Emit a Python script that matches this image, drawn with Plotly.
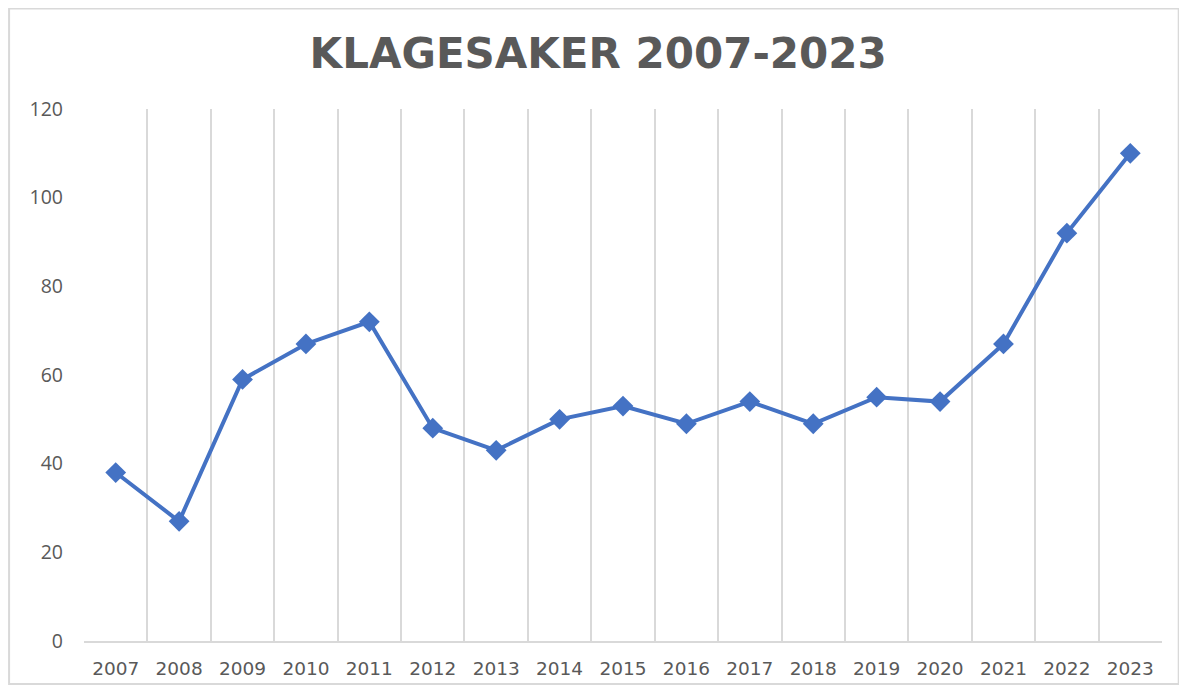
import plotly.graph_objects as go

years = ["2007", "2008", "2009", "2010", "2011", "2012", "2013", "2014", "2015",
         "2016", "2017", "2018", "2019", "2020", "2021", "2022", "2023"]
cases = [38, 27, 59, 67, 72, 48, 43, 50, 53, 49, 54, 49, 55, 54, 67, 92, 110]
y_ticks = [0, 20, 40, 60, 80, 100, 120]
title_text = "KLAGESAKER 2007-2023"

fig = go.Figure()
fig.add_trace(go.Scatter(
    x=years, y=cases, mode="lines+markers",
    line=dict(color="#4472C4", width=4),
    marker=dict(symbol="diamond", size=16, color="#4472C4"),
    showlegend=False,
))

fig.update_layout(
    width=1171, height=677,
    margin=dict(l=76, r=17, t=101, b=44),
    paper_bgcolor="white", plot_bgcolor="white",
    title=dict(text="<b>" + title_text + "</b>", x=0.504, xanchor="center",
               y=0.9335, yanchor="middle",
               font=dict(family="DejaVu Sans", size=42, color="#595959")),
    xaxis=dict(type="category", tickson="boundaries", showgrid=True,
               gridcolor="#D9D9D9", gridwidth=2, ticks="", showline=True,
               linecolor="#D9D9D9", linewidth=2, ticklabelstandoff=10,
               automargin=False,
               tickfont=dict(family="DejaVu Sans", size=18.5, color="#595959"),
               range=[-0.5, 16.5]),
    yaxis=dict(range=[0, 120], tickvals=y_ticks, showgrid=False, zeroline=False,
               showline=False, ticks="", ticklabelstandoff=20, automargin=False,
               tickfont=dict(family="Open Sans", size=19.5, color="#595959")),
    shapes=[dict(type="rect", xref="paper", yref="paper",
                 x0=-0.0695, x1=1.0155, y0=-0.0808, y1=1.189,
                 line=dict(color="#D9D9D9", width=2), fillcolor="rgba(0,0,0,0)")],
)

fig.write_html("out.html")
